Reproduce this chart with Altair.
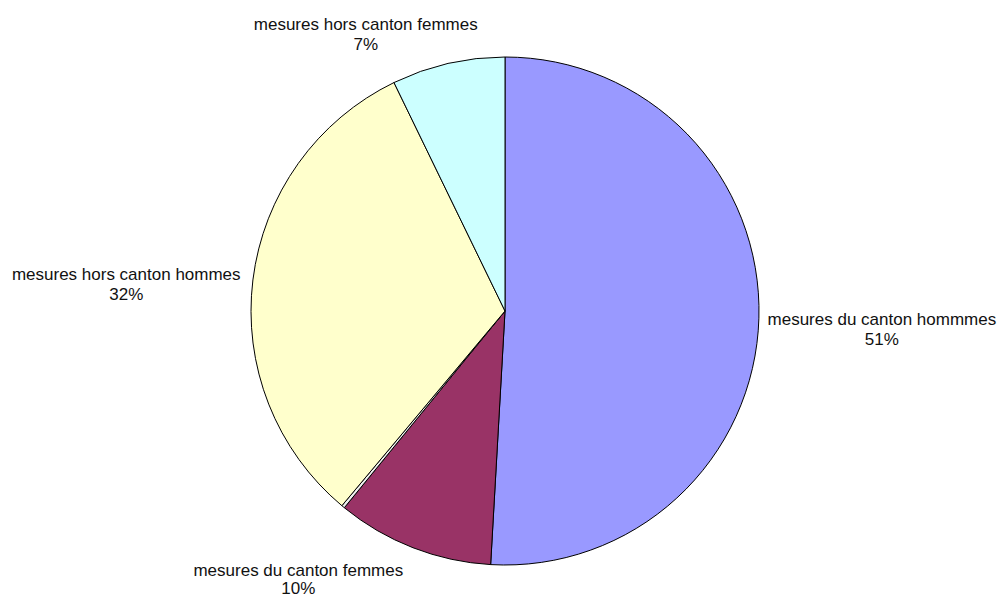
import altair as alt
import pandas as pd

categories = ["mesures du canton hommmes", "mesures du canton femmes", "autre", "mesures hors canton hommes", "mesures hors canton femmes"]
values = [50.9, 10.0, 0.2, 31.7, 7.2]
pct_labels = ["51%", "10%", "", "32%", "7%"]
colors = ["#9999FF", "#993366", "#F0F0F0", "#FFFFCC", "#CCFFFF"]

df = pd.DataFrame({
    "cat": categories,
    "val": values,
    "order": list(range(len(categories))),
    "label": [c + "\n" + p for c, p in zip(categories, pct_labels)],
})

CX, CY, R = 497, 303, 254

pie = alt.Chart(df).mark_arc(stroke="black", strokeWidth=1).encode(
    theta=alt.Theta("val:Q", stack=True),
    order=alt.Order("order:Q"),
    color=alt.Color("cat:N", scale=alt.Scale(domain=categories, range=colors), legend=None),
    x=alt.value(CX), y=alt.value(CY),
    radius=alt.value(R),
)

offsets = {
    "mesures du canton hommmes": (77, 1, 20),
    "mesures du canton femmes": (-98, -20, 18),
    "mesures hors canton hommes": (-81, 1, 20),
    "mesures hors canton femmes": (-72, 6, 20),
}

layers = [pie]
for cat, (dx, dy, lh) in offsets.items():
    t = alt.Chart(df).mark_text(
        lineBreak="\n", font="Liberation Sans", fontSize=17, lineHeight=lh,
        color="#111111", align="center", baseline="middle", dx=dx, dy=dy,
    ).encode(
        theta=alt.Theta("val:Q", stack=True),
        order=alt.Order("order:Q"),
        text="label:N",
        x=alt.value(CX), y=alt.value(CY),
        radius=alt.value(300),
        opacity=alt.condition(alt.datum.cat == cat, alt.value(1), alt.value(0)),
    )
    layers.append(t)

chart = alt.layer(*layers).properties(
    width=990, height=591,
    autosize=alt.AutoSizeParams(type="none"),
    padding=0,
).configure_view(stroke=None)

chart.save("out.html", embed_options={"renderer": "svg", "actions": False})
